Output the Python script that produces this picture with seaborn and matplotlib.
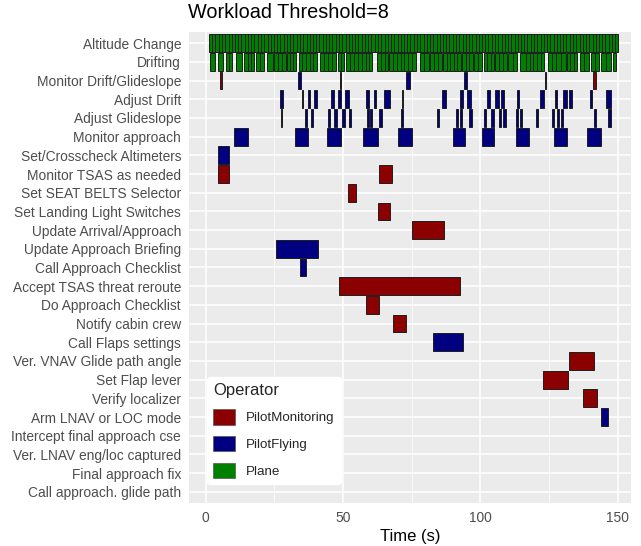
import matplotlib
matplotlib.use("Agg")
import matplotlib.pyplot as plt
from matplotlib.patches import Patch
import seaborn as sns
import pandas as pd

# ---------------- data ----------------
tasks = ["Altitude Change", "Drifting", "Monitor Drift/Glideslope", "Adjust Drift",
         "Adjust Glideslope", "Monitor approach", "Set/Crosscheck Altimeters",
         "Monitor TSAS as needed", "Set SEAT BELTS Selector", "Set Landing Light Switches",
         "Update Arrival/Approach", "Update Approach Briefing", "Call Approach Checklist",
         "Accept TSAS threat reroute", "Do Approach Checklist", "Notify cabin crew",
         "Call Flaps settings", "Ver. VNAV Glide path angle", "Set Flap lever",
         "Verify localizer", "Arm LNAV or LOC mode", "Intercept final approach cse",
         "Ver. LNAV eng/loc captured", "Final approach fix", "Call approach. glide path"]

operators = ["PilotMonitoring", "PilotFlying", "Plane"]
op_colors = ["#8B0000", "#000080", "#008000"]

# Altitude Change (Plane): contiguous short segments, edges in seconds
alt_edges = [1.2, 2.4, 3.5, 4.7, 5.9, 7.1, 8.3, 9.5, 10.6, 11.8, 13.0, 14.2, 15.4, 16.6,
             17.7, 18.9, 20.1, 21.3, 22.5, 23.7, 24.8, 26.0, 27.2, 28.4, 29.6, 30.8, 31.9,
             33.1, 34.3, 35.5, 36.7, 37.9, 39.0, 40.2, 41.4, 42.6, 43.8, 45.0, 46.1, 47.3,
             48.5, 49.7, 50.9, 52.1, 53.2, 54.4, 55.6, 56.8, 58.0, 59.2, 60.3, 61.5, 62.7,
             63.9, 65.1, 66.3, 67.4, 68.6, 69.8, 71.0, 72.2, 73.4, 74.5, 75.7, 76.9, 78.1,
             79.3, 80.5, 81.6, 82.8, 84.0, 85.2, 86.4, 87.6, 88.7, 89.9, 91.1, 92.3, 93.5,
             94.7, 95.8, 97.0, 98.2, 99.4, 100.6, 101.8, 102.9, 104.1, 105.3, 106.5, 107.7,
             108.9, 110.0, 111.2, 112.4, 113.6, 114.8, 116.0, 117.1, 118.3, 119.5, 120.7,
             121.9, 123.1, 124.2, 125.4, 126.6, 127.8, 129.0, 130.2, 131.3, 132.5, 133.7,
             134.9, 136.1, 137.3, 138.4, 139.6, 140.8, 142.0, 143.2, 144.4, 145.5, 146.7,
             147.9, 149.1, 150.0]

# Drifting (Plane)
drift_start = [1.6, 4.5, 7.3, 8.5, 11.1, 13.9, 15.2, 16.4, 18.3, 19.8, 22.3, 24.9, 26.3, 27.7,
               29.4, 30.5, 31.7, 34.0, 35.2, 36.6, 37.8, 39.2, 41.5, 42.9, 44.4, 45.9, 48.2,
               49.3, 51.2, 52.6, 54.1, 55.5, 57.0, 58.2, 59.4, 62.5, 63.9, 65.2, 66.7, 68.1,
               69.5, 70.9, 72.2, 73.6, 75.0, 78.0, 79.6, 81.5, 83.0, 84.6, 86.4, 87.7, 89.0,
               90.3, 91.6, 93.2, 94.6, 96.0, 97.8, 99.2, 101.2, 102.4, 103.7, 105.3, 106.8,
               108.3, 110.2, 111.8, 114.4, 116.7, 118.0, 119.3, 120.6, 121.9, 124.7, 126.0,
               127.6, 129.3, 131.4, 132.7, 134.0, 136.1, 137.8, 140.1, 141.6, 143.8, 145.6,
               148.3]
drift_end = [3.4, 6.3, 8.5, 9.7, 13.1, 15.2, 16.4, 17.6, 19.8, 21.3, 24.3, 26.3, 27.7, 29.1,
             30.5, 31.7, 32.8, 35.2, 36.6, 37.8, 39.2, 40.6, 42.9, 44.4, 45.9, 47.3, 49.3,
             50.3, 52.6, 54.1, 55.5, 57.0, 58.2, 59.4, 60.6, 63.9, 65.2, 66.5, 68.1, 69.5,
             70.9, 72.2, 73.6, 75.0, 76.4, 79.6, 81.3, 83.0, 84.6, 86.1, 87.7, 89.0, 90.3,
             91.6, 92.8, 94.6, 96.0, 97.3, 99.2, 100.7, 102.4, 103.7, 104.9, 106.8, 108.3,
             109.8, 111.8, 113.4, 116.5, 118.0, 119.3, 120.6, 121.9, 123.2, 126.0, 127.4,
             129.3, 131.0, 132.7, 134.0, 135.3, 137.8, 139.5, 141.6, 143.2, 145.6, 147.4,
             149.5]

# Monitor Drift/Glideslope
mon_drift_start = [5.2, 33.6, 48.9, 72.8, 94.0, 123.6, 140.9]
mon_drift_end = [5.9, 34.6, 49.3, 74.2, 95.0, 124.0, 142.0]
mon_drift_op = ["PilotMonitoring", "PilotFlying", "PilotMonitoring", "PilotFlying",
                "PilotFlying", "PilotMonitoring", "PilotMonitoring"]

# Adjust Drift (PilotFlying)
adj_drift_start = [26.9, 35.1, 37.1, 39.4, 45.7, 48.2, 50.8, 58.2, 61.3, 65.0, 71.3, 85.9,
                   92.5, 95.2, 102.4, 105.3, 107.4, 113.3, 121.8, 127.3, 130.0, 132.4,
                   139.8, 145.7]
adj_drift_end = [28.1, 35.5, 37.9, 40.4, 46.6, 49.4, 52.1, 59.4, 62.0, 67.1, 71.8, 87.6,
                 93.7, 96.6, 103.6, 106.7, 108.5, 113.9, 123.3, 128.0, 131.4, 133.5,
                 140.7, 147.4]

# Adjust Glideslope (PilotFlying)
adj_gs_start = [27.3, 36.1, 38.2, 44.6, 46.7, 49.6, 52.1, 58.8, 59.8, 63.0, 71.0, 84.1,
                91.0, 92.7, 96.0, 101.2, 103.9, 106.7, 108.2, 113.1, 114.4, 120.1, 126.0,
                127.9, 129.4, 141.2, 146.6]
adj_gs_end = [27.8, 37.0, 38.9, 45.1, 47.6, 50.6, 52.9, 59.4, 60.6, 64.3, 71.7, 84.9,
              91.7, 93.4, 96.8, 101.9, 104.9, 107.5, 109.2, 113.7, 115.3, 120.8, 126.7,
              128.6, 130.1, 142.2, 147.5]

# Monitor approach (PilotFlying)
mon_app_start = [10.1, 32.4, 44.3, 57.4, 70.1, 90.0, 100.6, 113.0, 126.7, 138.7]
mon_app_end = [15.5, 37.4, 49.4, 62.8, 75.2, 94.3, 104.9, 117.6, 131.4, 143.9]

# single / few-event tasks
other_task = ["Set/Crosscheck Altimeters", "Monitor TSAS as needed", "Monitor TSAS as needed",
              "Set SEAT BELTS Selector", "Set Landing Light Switches", "Update Arrival/Approach",
              "Update Approach Briefing", "Call Approach Checklist", "Accept TSAS threat reroute",
              "Do Approach Checklist", "Notify cabin crew", "Call Flaps settings",
              "Ver. VNAV Glide path angle", "Set Flap lever", "Verify localizer",
              "Arm LNAV or LOC mode"]
other_start = [4.5, 4.5, 63.2, 51.7, 62.8, 75.2, 25.7, 34.4, 48.6, 58.4, 68.2, 82.8,
               132.2, 122.8, 137.4, 143.9]
other_end = [8.6, 8.5, 67.7, 54.6, 67.2, 86.8, 41.0, 36.6, 92.7, 63.1, 72.9, 93.7,
             141.4, 131.9, 142.5, 146.5]
other_op = ["PilotFlying", "PilotMonitoring", "PilotMonitoring", "PilotMonitoring",
            "PilotMonitoring", "PilotMonitoring", "PilotFlying", "PilotFlying",
            "PilotMonitoring", "PilotMonitoring", "PilotMonitoring", "PilotFlying",
            "PilotMonitoring", "PilotMonitoring", "PilotMonitoring", "PilotFlying"]

x_ticks = [0, 50, 100, 150]

# ---------------- build table ----------------
frames = [
    pd.DataFrame({"task": "Altitude Change", "start": alt_edges[:-1], "end": alt_edges[1:],
                  "operator": "Plane"}),
    pd.DataFrame({"task": "Drifting", "start": drift_start, "end": drift_end, "operator": "Plane"}),
    pd.DataFrame({"task": "Monitor Drift/Glideslope", "start": mon_drift_start,
                  "end": mon_drift_end, "operator": mon_drift_op}),
    pd.DataFrame({"task": "Adjust Drift", "start": adj_drift_start, "end": adj_drift_end,
                  "operator": "PilotFlying"}),
    pd.DataFrame({"task": "Adjust Glideslope", "start": adj_gs_start, "end": adj_gs_end,
                  "operator": "PilotFlying"}),
    pd.DataFrame({"task": "Monitor approach", "start": mon_app_start, "end": mon_app_end,
                  "operator": "PilotFlying"}),
    pd.DataFrame({"task": other_task, "start": other_start, "end": other_end,
                  "operator": other_op}),
]
df = pd.concat(frames, ignore_index=True)
df["task"] = pd.Categorical(df["task"], categories=tasks, ordered=True)
df["ypos"] = df["task"].cat.codes
df["dur"] = df["end"] - df["start"]
palette = dict(zip(operators, op_colors))

# ---------------- plot ----------------
sns.set_theme(style="darkgrid")
plt.rcParams["font.family"] = ["Liberation Sans", "DejaVu Sans"]

W, H = 641, 546
fig = plt.figure(figsize=(W / 100, H / 100), dpi=100)
ax = fig.add_axes([189 / W, 1 - 503 / H, (631 - 189) / W, (503 - 32) / H])
ax.set_facecolor("#EBEBEB")

ax.barh(df["ypos"], df["dur"], left=df["start"], height=0.95,
        color=[palette[o] for o in df["operator"]], edgecolor="#1e1e1e", linewidth=0.7,
        zorder=3)

ax.set_yticks(range(len(tasks)))
ax.set_yticklabels(tasks)
ax.set_ylim(len(tasks) - 1 + 0.6, -0.6)
ax.set_xlim(-6.1, 154.8)
ax.set_xticks(x_ticks)
ax.set_xticks([25, 75, 125], minor=True)

ax.grid(which="major", color="white", linewidth=1.1, zorder=0)
ax.grid(which="minor", axis="x", color="white", linewidth=0.55, zorder=0)
ax.set_axisbelow(True)
for s in ax.spines.values():
    s.set_visible(False)

ax.tick_params(axis="both", which="major", length=3.2, width=0.8, color="#333333",
               labelsize=9.9, labelcolor="#4D4D4D", pad=2.5)
ax.tick_params(axis="both", which="minor", length=0)
ax.set_xlabel("Time (s)", fontsize=12, color="black", labelpad=3)
ax.set_ylabel("")

fig.text(188 / W, 1 - 13 / H, "Workload Threshold=8", fontsize=14.3, color="black",
         ha="left", va="center")

handles = [Patch(facecolor=c, edgecolor="#555555", linewidth=0.5) for c in op_colors]
leg = ax.legend(handles, operators, title="Operator", loc="lower left",
                bbox_to_anchor=(0.041, 0.040), frameon=True, fontsize=9.6,
                title_fontsize=12, handlelength=1.65, handleheight=1.4,
                labelspacing=0.85, handletextpad=0.83, borderpad=0.45,
                borderaxespad=0.0, alignment="left")
leg.get_frame().set_facecolor("white")
leg.get_frame().set_edgecolor("white")
leg.get_frame().set_alpha(1.0)
leg.set_zorder(10)

fig.savefig("out.png", dpi=100)
